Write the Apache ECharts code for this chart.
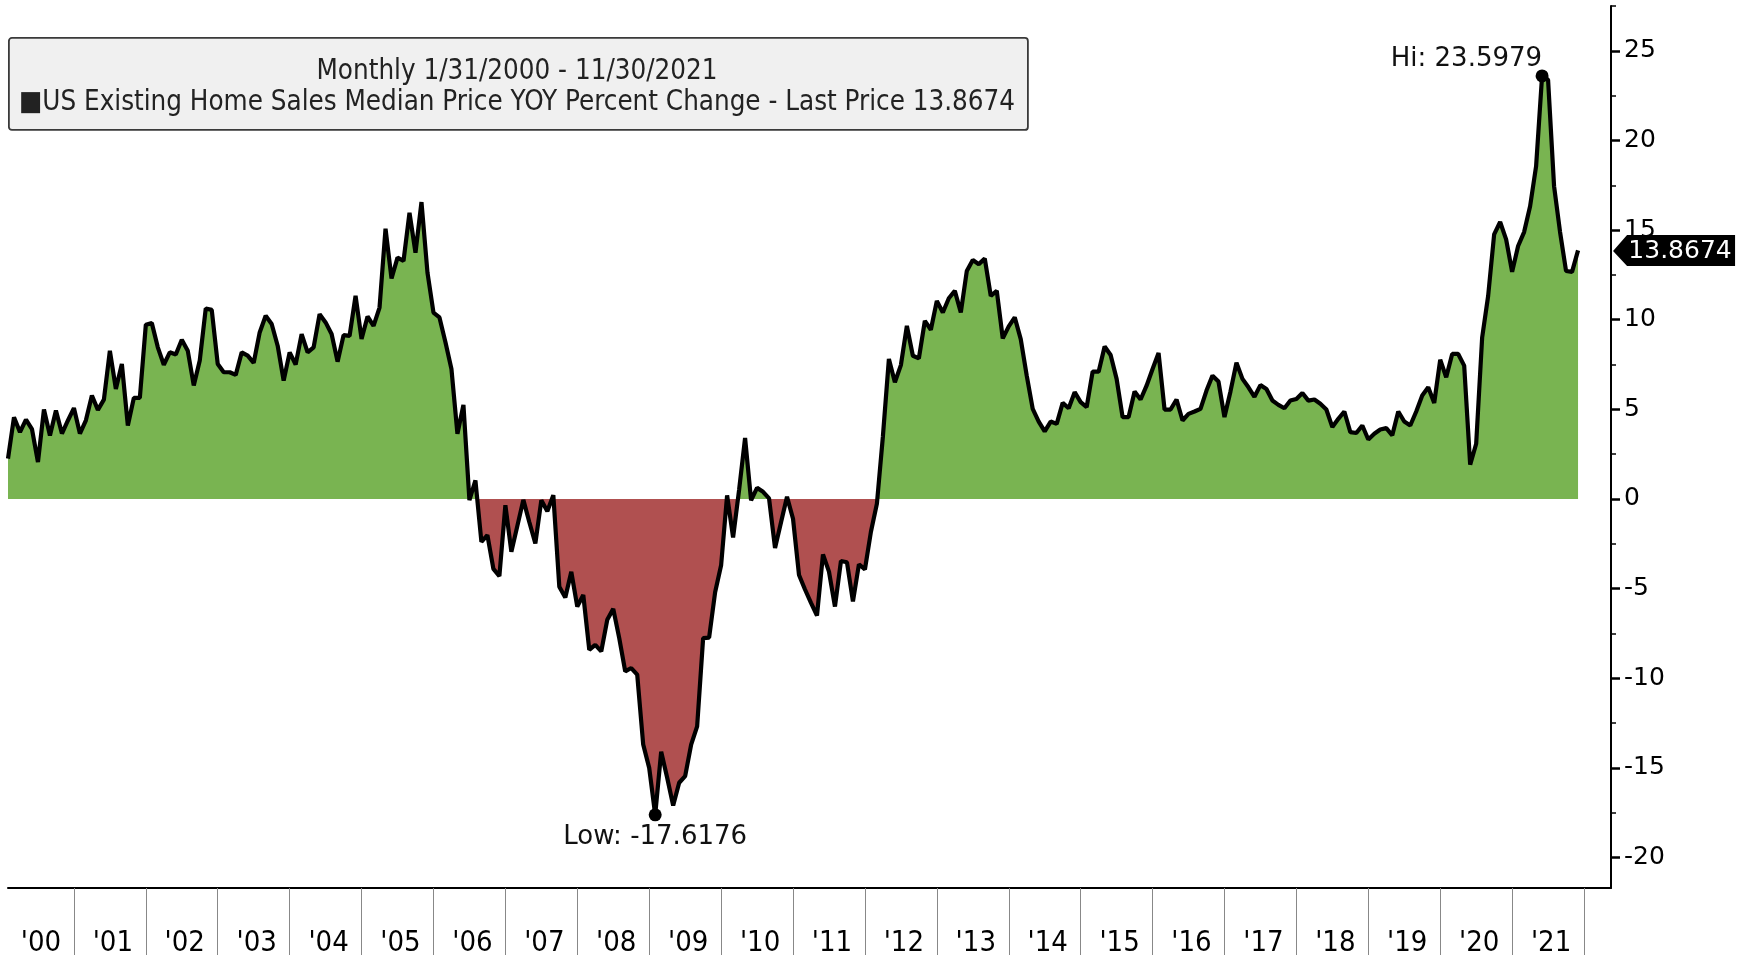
<!DOCTYPE html>
<html>
<head>
<meta charset="utf-8">
<title>US Existing Home Sales Median Price YOY</title>
<script src="https://cdn.jsdelivr.net/npm/echarts@6/dist/echarts.min.js"></script>
<style>
  html, body { margin: 0; padding: 0; background: #fff; }
  #chart { width: 1745px; height: 958px; }
</style>
</head>
<body>
<div id="chart"></div>
<script>
// year labels on the bottom axis ('00 .. '21)
const yearLabels = ["'00", "'01", "'02", "'03", "'04", "'05", "'06", "'07", "'08", "'09", "'10",
  "'11", "'12", "'13", "'14", "'15", "'16", "'17", "'18", "'19", "'20", "'21"]

// monthly YOY % change, Jan 2000 .. Nov 2021
const yoyChange = [
  2.25, 4.56, 3.73, 4.43, 3.9, 2.06, 4.99, 3.54, 4.93, 3.65, 4.38, 5.07,          // 2000
  3.65, 4.39, 5.77, 4.97, 5.54, 8.27, 6.14, 7.53, 4.1, 5.64, 5.64, 9.72,          // 2001
  9.81, 8.46, 7.49, 8.18, 8.06, 8.88, 8.27, 6.33, 7.72, 10.63, 10.55, 7.53,       // 2002
  7.07, 7.07, 6.92, 8.18, 8.0, 7.59, 9.29, 10.22, 9.76, 8.55, 6.6, 8.18,          // 2003
  7.5, 9.2, 8.18, 8.46, 10.31, 9.85, 9.2, 7.66, 9.14, 9.1, 11.33, 8.92,           // 2004
  10.18, 9.66, 10.68, 15.08, 12.3, 13.46, 13.28, 15.97, 13.74, 16.56, 12.63, 10.4, // 2005
  10.13, 8.74, 7.25, 3.64, 5.25, -0.07, 1.04, -2.39, -2.02, -3.9, -4.3, -0.35,    // 2006
  -2.94, -1.5, -0.05, -1.3, -2.48, -0.07, -0.68, 0.21, -4.89, -5.5, -4.06, -6.0,  // 2007
  -5.36, -8.41, -8.14, -8.5, -6.74, -6.13, -7.76, -9.62, -9.43, -9.8, -13.7, -15.0, // 2008
  -17.6176, -14.1, -15.55, -17.1, -15.83, -15.46, -13.7, -12.68, -7.76, -7.73, -5.2, -3.7, // 2009
  0.2, -2.15, 0.5, 3.4, -0.07, 0.62, 0.4, 0.03, -2.74, -1.3, 0.12, -1.1,          // 2010
  -4.24, -5.05, -5.8, -6.5, -3.09, -4.05, -6.0, -3.46, -3.53, -5.72, -3.64, -3.93, // 2011
  -1.83, -0.26, 3.5, 7.81, 6.51, 7.47, 9.66, 7.99, 7.84, 9.94, 9.44, 11.05,       // 2012
  10.4, 11.2, 11.61, 10.4, 12.72, 13.33, 13.1, 13.41, 11.33, 11.61, 8.96, 9.63,   // 2013
  10.13, 8.92, 6.88, 5.03, 4.32, 3.77, 4.32, 4.19, 5.36, 5.06, 5.96, 5.4,         // 2014
  5.12, 7.1, 7.1, 8.51, 8.03, 6.7, 4.57, 4.57, 5.99, 5.55, 6.32, 7.25,            // 2015
  8.14, 4.99, 4.99, 5.55, 4.38, 4.75, 4.88, 5.03, 6.05, 6.88, 6.55, 4.57,         // 2016
  6.0, 7.6, 6.7, 6.23, 5.7, 6.35, 6.14, 5.49, 5.25, 5.06, 5.49, 5.58,             // 2017
  5.91, 5.49, 5.55, 5.31, 4.99, 4.01, 4.47, 4.88, 3.73, 3.68, 4.1, 3.32,          // 2018
  3.64, 3.88, 3.95, 3.55, 4.88, 4.32, 4.1, 4.88, 5.77, 6.23, 5.36, 7.77,          // 2019
  6.79, 8.09, 8.09, 7.44, 1.91, 3.08, 9.01, 11.33, 14.76, 15.45, 14.48, 12.67,    // 2020
  14.11, 14.89, 16.33, 18.56, 23.5979, 23.38, 17.45, 14.89, 12.72, 12.67, 13.8674 // 2021
]

const majorTicks = [-20, -15, -10, -5, 0, 5, 10, 15, 20, 25]
const minorTicks = [-17.5, -12.5, -7.5, -2.5, 2.5, 7.5, 12.5, 17.5, 22.5, 27.5]

const lastPrice = yoyChange[yoyChange.length - 1]
const seriesData = yoyChange.map((v, i) => [i, v])
// x is month index (0 = 1/31/2000); a new year starts just before index 12k-1
const yearEdges = yearLabels.map((_, k) => 12 * k + 11)
const yearMids = yearLabels.map((_, k) => 12 * k + 5.5)

const mycharts = echarts.init(document.getElementById('chart'))
mycharts.setOption({
  animation: false,
  backgroundColor: '#fff',
  grid: { left: 8, right: 134, top: 6, bottom: 67 },
  xAxis: {
    type: 'value',
    min: 0,
    max: 267.5,
    axisLine: { onZero: false, lineStyle: { color: '#000', width: 2 } },
    axisTick: { show: true, customValues: yearEdges, length: 67, lineStyle: { color: '#888', width: 1 } },
    axisLabel: {
      customValues: yearMids,
      formatter: (v) => yearLabels[Math.round((v - 5.5) / 12)],
      margin: 41,
      color: '#000',
      fontSize: 29,
      fontFamily: 'DejaVu Sans Condensed',
    },
    splitLine: { show: false },
  },
  yAxis: [
    {
      type: 'value',
      position: 'right',
      min: -21.7,
      max: 27.5,
      axisLine: { show: true, onZero: false, lineStyle: { color: '#000', width: 2 } },
      axisTick: { show: true, customValues: majorTicks, length: 9, lineStyle: { color: '#000', width: 2.5 } },
      axisLabel: {
        customValues: majorTicks,
        margin: 13,
        color: '#000',
        fontSize: 25,
        fontFamily: 'DejaVu Sans',
      },
      splitLine: { show: false },
    },
    {
      type: 'value',
      position: 'right',
      min: -21.7,
      max: 27.5,
      axisLine: { show: false, onZero: false },
      axisTick: { show: true, customValues: minorTicks, length: 5, lineStyle: { color: '#000', width: 1.5 } },
      axisLabel: { show: false },
      splitLine: { show: false },
    },
  ],
  visualMap: {
    show: false,
    type: 'piecewise',
    seriesIndex: 0,
    dimension: 1,
    pieces: [
      { gt: 0, lte: 100, color: '#79B451' },
      { gt: -100, lte: 0, color: '#B05050' },
    ],
  },
  series: [
    {
      type: 'line',
      data: seriesData,
      symbol: 'none',
      silent: true,
      lineStyle: { width: 0 },
      areaStyle: { opacity: 1 },
      z: 1,
    },
    {
      type: 'line',
      data: seriesData,
      symbol: 'none',
      lineStyle: { color: '#000', width: 4.2 },
      z: 3,
      markPoint: {
        symbol: 'circle',
        symbolSize: 13,
        itemStyle: { color: '#000' },
        label: { color: '#111', fontSize: 26, fontFamily: 'DejaVu Sans' },
        data: [
          { type: 'max', label: { position: 'top', align: 'right', distance: -3, formatter: 'Hi: {c}' } },
          { type: 'min', label: { position: 'bottom', distance: 3, formatter: 'Low: {c}' } },
          {
            coord: [yoyChange.length - 1, lastPrice],
            value: lastPrice,
            symbol: 'path://M0,16L14,0L122,0L122,31L14,31Z',
            symbolSize: [122, 31],
            symbolOffset: [96, 0],
            itemStyle: { color: '#000' },
            label: { position: 'inside', offset: [6, 1], color: '#fff', fontSize: 25, formatter: '{c}' },
          },
        ],
      },
    },
  ],
  graphic: [
    {
      type: 'rect',
      left: 8,
      top: 37,
      shape: { width: 1019, height: 92, r: 3 },
      style: { fill: '#F0F0F0', stroke: '#3A3A3A', lineWidth: 1.8 },
    },
    {
      type: 'text',
      x: 517,
      y: 72,
      style: {
        text: 'Monthly 1/31/2000 - 11/30/2021',
        font: '27.5px "DejaVu Sans Condensed"',
        fill: '#222',
        align: 'center',
        verticalAlign: 'middle',
      },
    },
    {
      type: 'text',
      x: 517,
      y: 103,
      style: {
        text: '■US Existing Home Sales Median Price YOY Percent Change - Last Price ' + lastPrice,
        font: '27.5px "DejaVu Sans Condensed"',
        fill: '#222',
        align: 'center',
        verticalAlign: 'middle',
      },
    },
  ],
})
</script>
</body>
</html>
